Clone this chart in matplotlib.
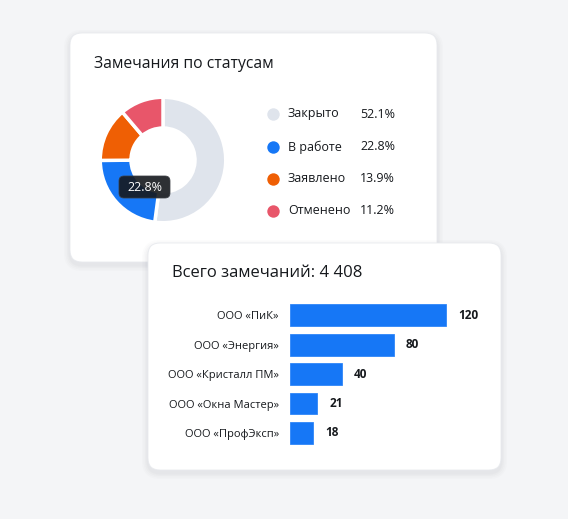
import numpy as np
import matplotlib.pyplot as plt
from matplotlib.patches import FancyBboxPatch

plt.rcParams['font.family'] = ['Open Sans', 'DejaVu Sans']

# Data
status_labels = ['Закрыто', 'В работе', 'Заявлено', 'Отменено']
status_shares = [52.1, 22.8, 13.9, 11.2]
status_colors = ['#dfe4ec', '#1677f6', '#ef5f04', '#e8566a']

companies = ['ООО «ПиК»', 'ООО «Энергия»', 'ООО «Кристалл ПМ»',
             'ООО «Окна Мастер»', 'ООО «ПрофЭксп»']
company_counts = [120, 80, 40, 21, 18]
total_remarks = '4 408'

TEXT = '#16191d'
W, H = 568, 519
fig = plt.figure(figsize=(W / 100, H / 100), dpi=100)
fig.patch.set_facecolor('#f4f5f7')


def px_axes(x, y, w, h):
    # axes placed in pixel coordinates (top-left origin)
    return fig.add_axes([x / W, 1 - (y + h) / H, w / W, h / H])


def overlay(z):
    a = fig.add_axes([0, 0, 1, 1])
    a.set_xlim(0, W)
    a.set_ylim(H, 0)
    a.axis('off')
    a.set_zorder(z)
    a.patch.set_alpha(0)
    return a


bg = overlay(0)
fg = overlay(20)


def card(x, y, w, h, z):
    # soft shadow
    for i, a in enumerate([0.015, 0.02, 0.025, 0.03]):
        d = 6 - i * 1.5
        bg.add_patch(FancyBboxPatch((x - d, y - d + 3), w + 2 * d, h + 2 * d,
                                    boxstyle=f'round,pad=0,rounding_size={12 + d}',
                                    fc='#5a6070', ec='none', alpha=a, zorder=z))
    bg.add_patch(FancyBboxPatch((x, y), w, h, boxstyle='round,pad=0,rounding_size=12',
                                fc='white', ec='#e8eaee', lw=0.6, zorder=z + 0.1))


# Card 1: donut
card(70, 33, 367, 229, 1)
bg.text(94, 64, 'Замечания по статусам', fontsize=11.3, color=TEXT,
        va='center', ha='left', zorder=3)

ax_pie = px_axes(99, 96, 128, 128)
ax_pie.set_zorder(5)
ax_pie.pie(status_shares, colors=status_colors, startangle=90, counterclock=False,
           radius=1, wedgeprops=dict(width=0.49, edgecolor='white', linewidth=2.5,
                                     joinstyle='round'))
ax_pie.set_xlim(-1.02, 1.02)
ax_pie.set_ylim(-1.02, 1.02)
ax_pie.set_aspect('equal')

# tooltip
fg.add_patch(FancyBboxPatch((119, 176), 51, 22, boxstyle='round,pad=0,rounding_size=5',
                            fc='#16191e', ec='#3a3d42', lw=0.6, alpha=0.9, zorder=3))
fg.text(144.5, 187.5, f'{status_shares[1]}%', color='white', fontsize=9,
        ha='center', va='center', zorder=4)

# legend
row_y = [114, 147, 179, 211]
for yy, lab, val, col in zip(row_y, status_labels, status_shares, status_colors):
    bg.scatter([273], [yy], s=80, color=col, zorder=3, linewidths=0)
    bg.text(288, yy, lab, fontsize=9, color=TEXT, va='center', ha='left', zorder=3)
    bg.text(395, yy, f'{val}%', fontsize=9, color=TEXT, va='center', ha='right', zorder=3)

# Card 2: bars
card(148, 243, 353, 227, 5)
bg.text(172, 273, f'Всего замечаний: {total_remarks}', fontsize=12, color=TEXT,
        va='center', ha='left', zorder=7)

ax_bar = px_axes(290, 300, 200, 150)
ax_bar.set_zorder(10)
ax_bar.patch.set_alpha(0)
y = np.arange(len(companies))
xmax = max(company_counts) * 200 / 156
ax_bar.barh(y, company_counts, height=0.74, color='#1677f6', edgecolor='#2f86f8', linewidth=0.6)
ax_bar.set_xlim(0, xmax)
ax_bar.set_ylim(len(companies) - 0.5 + 0.08, -0.5 - 0.02)
ax_bar.set_yticks(y)
ax_bar.set_yticklabels(companies, fontsize=8, color=TEXT)
ax_bar.tick_params(axis='y', length=0, pad=8)
ax_bar.set_xticks([])
for s in ax_bar.spines.values():
    s.set_visible(False)
for yi, v in zip(y, company_counts):
    ax_bar.annotate(str(v), (v, yi), xytext=(12, 0), textcoords='offset pixels',
                    fontsize=8.5, fontweight='bold', color=TEXT,
                    ha='left', va='center')

plt.savefig('out.png', dpi=100, facecolor=fig.get_facecolor())
